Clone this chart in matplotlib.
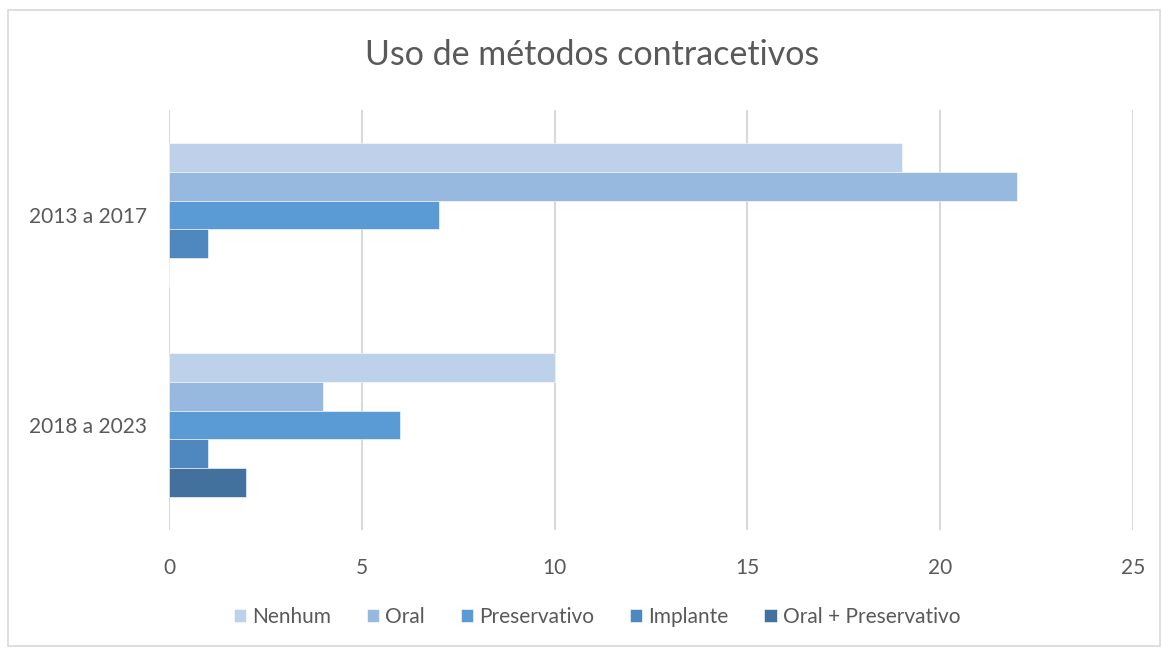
import matplotlib.pyplot as plt
import numpy as np

plt.rcParams['font.family'] = ['Lato', 'DejaVu Sans']

# data
periods = ["2013 a 2017", "2018 a 2023"]
series = ["Nenhum", "Oral", "Preservativo", "Implante", "Oral + Preservativo"]
nenhum = [19, 10]
oral = [22, 4]
preservativo = [7, 6]
implante = [1, 1]
oral_preservativo = [0, 2]
values = [nenhum, oral, preservativo, implante, oral_preservativo]
colors = ["#BDD1EA", "#97B9E0", "#5B9BD5", "#4E88BE", "#41719C"]
xticks = [0, 5, 10, 15, 20, 25]

text_color = "#595959"

fig = plt.figure(figsize=(11.62, 6.48), dpi=100)
ax = fig.add_axes([169 / 1162, 1 - 530 / 648, (1133 - 169) / 1162, 420 / 648])

y = np.arange(len(periods))
h = 0.137
for i, (name, vals) in enumerate(zip(series, values)):
    offs = (i - 2) * h
    ax.barh(y + offs, vals, height=h, color=colors[i], label=name,
            edgecolor="white", linewidth=0.4, zorder=3)

ax.set_ylim(1.5, -0.5)
ax.set_xlim(0, 25)
ax.set_xticks(xticks)
ax.set_yticks(y)
ax.set_yticklabels(periods)
ax.tick_params(length=0, labelsize=15, colors=text_color)
ax.tick_params(axis="x", pad=20)
ax.tick_params(axis="y", pad=16)
ax.grid(axis="x", color="#D9D9D9", linewidth=1.5, zorder=0)
for s in ax.spines.values():
    s.set_visible(False)

fig.text(592 / 1162, 1 - 55 / 648, "Uso de métodos contracetivos", ha="center",
         va="center", fontsize=24.5, color=text_color)

fig.legend(loc="center", bbox_to_anchor=(597 / 1162, 1 - 617 / 648), ncol=5,
           frameon=False, fontsize=15, labelcolor=text_color,
           handlelength=0.6, handleheight=0.6, handletextpad=0.3,
           columnspacing=1.7)

# outer frame
frame = plt.Rectangle((8 / 1162, 2 / 648), 1152 / 1162, 636 / 648,
                      transform=fig.transFigure, fill=False,
                      edgecolor="#D9D9D9", linewidth=1.2)
fig.patches.append(frame)

fig.savefig("out.png", dpi=100, facecolor="white")
